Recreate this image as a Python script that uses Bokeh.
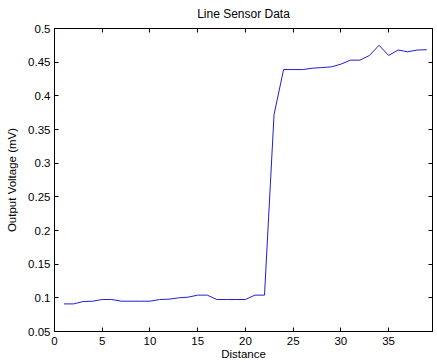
from bokeh.plotting import figure
from bokeh.models import Range1d, FixedTicker, LinearAxis, CustomLabelingPolicy
from bokeh.embed import file_html
from bokeh.resources import INLINE

distance = [1, 2, 3, 4, 5, 6, 7, 8, 9, 10, 11, 12, 13, 14, 15, 16, 17, 18, 19, 20,
            21, 22, 23, 24, 25, 26, 27, 28, 29, 30, 31, 32, 33, 34, 35, 36, 37, 38, 39]
voltage = [0.091, 0.091, 0.0945, 0.095, 0.0975, 0.0975, 0.095, 0.095, 0.095, 0.095,
           0.0975, 0.098, 0.100, 0.101, 0.104, 0.104, 0.0975, 0.0975, 0.0975, 0.0975,
           0.104, 0.104, 0.372, 0.439, 0.439, 0.439, 0.441, 0.442, 0.443, 0.447,
           0.453, 0.453, 0.460, 0.475, 0.460, 0.468, 0.4655, 0.468, 0.4685]

x_ticks = [0, 5, 10, 15, 20, 25, 30, 35, 40]
x_tick_labels = ["0", "5", "10", "15", "20", "25", "30", "35", "40"]
y_ticks = [0.05, 0.1, 0.15, 0.2, 0.25, 0.3, 0.35, 0.4, 0.45, 0.5]
y_tick_labels = ["0.05", "0.1", "0.15", "0.2", "0.25", "0.3", "0.35", "0.4", "0.45", "0.5"]

# the reference axes box runs to x = 40 just past the picture's right edge
x_visible_end = 39.6

FONT = "Liberation Sans"

p = figure(width=437, height=362, output_backend="svg", toolbar_location=None,
           x_range=Range1d(0, x_visible_end), y_range=Range1d(0.05, 0.5),
           title="Line Sensor Data", x_axis_label="Distance",
           y_axis_label="Output Voltage (mV)", min_border=0,
           min_border_left=54, min_border_top=28, min_border_bottom=30, min_border_right=0)

p.line(distance, voltage, line_color="#1f1fd0", line_width=1)

p.title.text_font = FONT
p.title.text_font_size = "12px"
p.title.text_font_style = "normal"
p.title.align = "center"
p.title.text_color = "black"
p.title.standoff = 7

p.xgrid.visible = False
p.ygrid.visible = False
p.outline_line_color = "black"
p.outline_line_alpha = 1.0
p.background_fill_color = "white"
p.border_fill_color = "white"

for ax, ticks, labels in ((p.xaxis[0], x_ticks, x_tick_labels), (p.yaxis[0], y_ticks, y_tick_labels)):
    ax.ticker = FixedTicker(ticks=ticks)
    ax.major_label_overrides = {t: l for t, l in zip(ticks, labels)}
    ax.minor_tick_line_color = None
    ax.major_tick_in = 4
    ax.major_tick_out = 0
    ax.major_tick_line_color = "black"
    ax.axis_line_color = "black"
    ax.major_label_text_font = FONT
    ax.major_label_text_font_size = "11.5px"
    ax.major_label_text_color = "black"
    ax.major_label_text_line_height = 1.0
    ax.axis_label_text_font = FONT
    ax.axis_label_text_font_size = "11.5px"
    ax.axis_label_text_font_style = "normal"
    ax.axis_label_text_color = "black"
    ax.axis_label_text_line_height = 1.0

p.xaxis[0].major_label_standoff = 5
p.yaxis[0].major_label_standoff = 4
p.xaxis[0].axis_label_standoff = 0
p.yaxis[0].axis_label_standoff = 7

hide_labels = CustomLabelingPolicy(code="""
    const n = indices.size
    for (let i = 0; i < n; i++) indices.unset(i)
    return indices
""")

top = LinearAxis(ticker=FixedTicker(ticks=x_ticks), major_label_text_font_size="1px",
                 major_tick_in=4, major_tick_out=0, minor_tick_line_color=None,
                 major_label_standoff=0, major_label_policy=hide_labels)
right = LinearAxis(ticker=FixedTicker(ticks=y_ticks), major_label_text_font_size="1px",
                   major_tick_in=4, major_tick_out=0, minor_tick_line_color=None,
                   major_label_standoff=0, major_label_policy=hide_labels)
p.add_layout(top, "above")
p.add_layout(right, "right")

open("out.html", "w").write(file_html(p, INLINE))
